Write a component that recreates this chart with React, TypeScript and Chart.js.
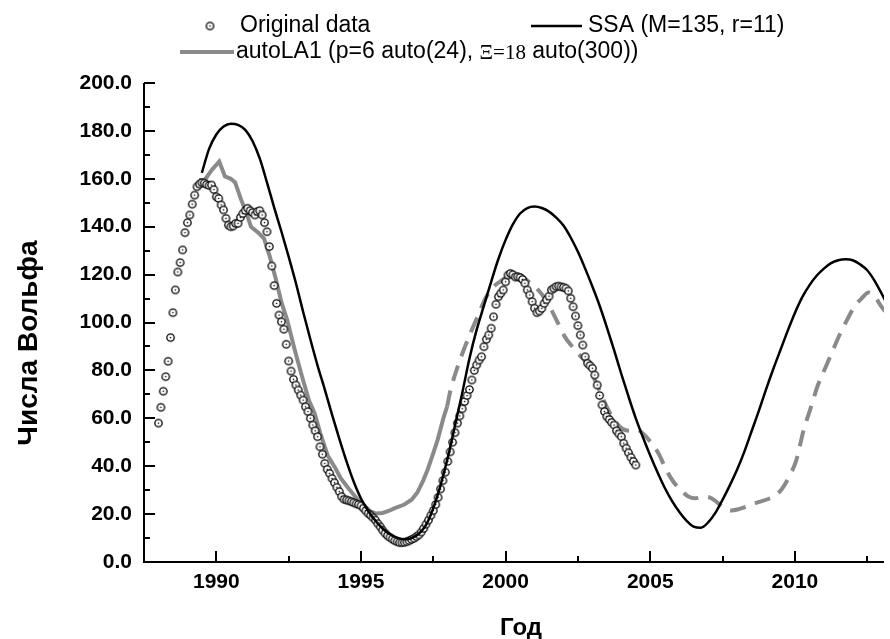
import React, { useEffect, useRef } from "react";
import { Chart, registerables } from "chart.js";

Chart.register(...registerables);

// ---------- data ----------
// Original data: monthly values starting January 1988
const obsStartYear = 1988;
const obsValues = [
  // 1988
  58, 64.6, 71.3, 77.4, 83.8, 93.7, 104.1, 113.6, 121.1, 125, 130.3, 137.5,
  // 1989
  141.7, 144.9, 149.4, 153.2, 156.7, 157.8, 158.4, 158.2, 157.6, 157.2, 157.4, 155.5,
  // 1990
  152.5, 151.8, 149.1, 147, 143.5, 140.7, 140, 140.3, 141.4, 141.4, 143.9, 145.5,
  // 1991
  146.8, 147.7, 146.7, 145.9, 144.9, 146.3, 146.7, 144.9, 141.7, 137.9, 131.7, 123.6,
  // 1992
  115.4, 108, 103.1, 100.3, 97.2, 90.9, 83.9, 79.7, 76.3, 73.9, 71.8, 69.7,
  // 1993
  67.6, 64.8, 62.8, 60, 57.2, 54.8, 52.3, 48.1, 45, 41.2, 38.7, 37,
  // 1994
  34.9, 33.1, 31.2, 29.4, 27.3, 26.2, 25.9, 25.6, 25.2, 24.8, 24.3, 24,
  // 1995
  23.5, 22.5, 21.4, 20.3, 19.5, 18.5, 17.5, 16, 14.7, 13.3, 12, 11,
  // 1996
  10.3, 9.6, 8.9, 8.5, 8.1, 8.1, 8.2, 8.5, 8.9, 9.4, 9.9, 10.6,
  // 1997
  11.3, 12.5, 14, 15.8, 17.5, 19.5, 21.5, 24, 27, 30.5, 34, 37.5,
  // 1998
  42, 46, 50, 54, 58, 61, 64, 67, 69.5, 72, 76, 80,
  // 1999
  82.3, 84.3, 85.7, 89.9, 93, 94.8, 97.6, 102.4, 107.6, 110.8, 112.2, 113.6,
  // 2000
  117, 119.8, 120.5, 120, 119, 119.1, 118.8, 118, 116.4, 113.6, 111.5, 108.7,
  // 2001
  106, 104.1, 104.8, 105.9, 108, 109.5, 111, 113.6, 114.3, 115, 115.2, 114.9,
  // 2002
  114.7, 114.3, 113.2, 110.1, 106.6, 102.7, 98.7, 94.8, 90.6, 85.7, 83, 82,
  // 2003
  80.9, 78.1, 73.9, 69.5, 65.6, 62.8, 60.7, 59.5, 58.3, 57.2, 54.8, 53.5,
  // 2004
  52.3, 49.6, 47.5, 45.6, 43.7, 42, 40.5,
];

// SSA reconstruction + forecast, sampled every quarter year from 1989.5
const ssaStartYear = 1989.5;
const ssaStep = 0.25;
const ssaValues = [
  162.5, 172.5, 178.5, 181.8, 183.0, 182.5, 180.4, 175.8, 168.5, 158.5,
  148.0, 138.0, 127.5, 116.5, 104.5, 93.0, 82.0, 72.0, 61.5, 51.5,
  42.0, 33.5, 26.5, 21.3, 17.2, 14.0, 11.6, 10.2, 9.5, 10.0,
  11.8, 15.5, 22.5, 32.0, 43.5, 57.0, 70.5, 85.0, 97.0, 107.0,
  117.0, 126.5, 134.5, 141.0, 145.5, 147.8, 148.4, 147.8, 146.3, 143.8,
  140.5, 135.5, 129.5, 122.5, 115.0, 107.0, 98.0, 88.5, 78.5, 69.0,
  60.0, 52.0, 44.5, 37.5, 31.0, 25.5, 21.0, 17.3, 14.8, 14.3,
  16.5, 20.5, 26.0, 32.0, 38.5, 46.0, 54.5, 63.0, 72.0, 80.5,
  88.5, 96.5, 104.0, 110.5, 115.5, 119.5, 122.5, 124.8, 126.0, 126.4,
  126.0, 124.3, 121.8, 117.5, 112.0, 106.0,
];

// autoLA1: fitted part (solid)
const laSolidYears = [
  1989.4, 1989.6, 1989.85, 1990.1, 1990.3, 1990.5, 1990.65, 1990.85, 1991.0, 1991.2,
  1991.45, 1991.65, 1991.85, 1992.05, 1992.25, 1992.45, 1992.7, 1992.95, 1993.2, 1993.4,
  1993.6, 1993.85, 1994.1, 1994.3, 1994.55, 1994.9, 1995.25, 1995.5, 1995.75, 1996.0,
  1996.15, 1996.5, 1996.75, 1996.95, 1997.15, 1997.3, 1997.5, 1997.65, 1997.86, 1997.98,
];
const laSolidValues = [
  159.5, 159.5, 163.8, 167.2, 161, 160, 158.5, 151.5, 147, 140,
  137.5, 135, 127.5, 118.5, 108.5, 101, 89, 78, 67.5, 62,
  53.5, 44.5, 39.5, 35, 31, 25.9, 21.5, 20.3, 20.5, 21.5,
  22.4, 24, 26, 29, 34, 38.4, 45.5, 51, 60.5, 65,
];

// autoLA1: forecast part (dashed)
const laDashYears = [
  1997.98, 1998.1, 1998.3, 1998.55, 1998.8, 1999.05, 1999.3, 1999.55, 1999.8, 2000.05,
  2000.3, 2000.55, 2000.8, 2001.05, 2001.3, 2001.55, 2001.8, 2002.05, 2002.3, 2002.55,
  2002.8, 2003.05, 2003.3, 2003.55, 2003.8, 2004.05, 2004.3, 2004.55, 2004.8, 2005.05,
  2005.3, 2005.55, 2005.8, 2006.05, 2006.3, 2006.55, 2006.8, 2007.05, 2007.3, 2007.55,
  2007.8, 2008.05, 2008.3, 2008.55, 2008.8, 2009.05, 2009.3, 2009.55, 2009.8, 2010.05,
  2010.3, 2010.55, 2010.8, 2011.05, 2011.3, 2011.55, 2011.8, 2012.05, 2012.3, 2012.55,
  2012.75, 2013.0, 2013.25,
];
const laDashValues = [
  65, 72, 80, 88.5, 96, 103, 110, 114.5, 117, 119,
  120.5, 119.5, 117, 114.5, 111, 106, 100, 94, 90, 86.5,
  83, 77, 70, 63.5, 58.5, 55.5, 54.8, 55.2, 53, 49.5,
  45, 38.5, 33.5, 30, 27.5, 26.6, 27.3, 27, 25, 22.5,
  21.5, 22, 23, 24.2, 25.2, 26.2, 27.5, 30.5, 35.6, 42.5,
  55, 64.5, 74, 81, 88, 95, 101, 106.5, 110, 112.5,
  111, 106.5, 103,
];

const xTickYears = [1990, 1995, 2000, 2005, 2010];
const xMinorYears = [1992.5, 1997.5, 2002.5, 2007.5, 2012.5];
const yTickValues = [0, 20, 40, 60, 80, 100, 120, 140, 160, 180, 200];
const yMinorValues = [10, 30, 50, 70, 90, 110, 130, 150, 170, 190];

const labelOriginal = "Original data";
const labelSSA = "SSA (M=135, r=11)";
const labelLA = ["autoLA1 (p=6 auto(24), ", "\u039E=18", " auto(300))"];
const xTitle = "Год";
const yTitle = "Числа Вольфа";

// ---------- styles ----------
const SANS = "'Liberation Sans', Arial, Helvetica, sans-serif";
const SERIF = "'Liberation Serif', 'Times New Roman', serif";
const GRAY = "#8a8a8a";

function makeMarker(): HTMLCanvasElement {
  const c = document.createElement("canvas");
  c.width = 11;
  c.height = 11;
  const g = c.getContext("2d")!;
  g.beginPath();
  g.arc(5.5, 5.5, 3.7, 0, Math.PI * 2);
  g.fillStyle = "#fff";
  g.fill();
  g.lineWidth = 1.3;
  g.strokeStyle = "#000";
  g.stroke();
  g.fillStyle = "#000";
  g.beginPath();
  g.arc(5.5, 5.5, 0.8, 0, Math.PI * 2);
  g.fill();
  return c;
}

export default function App() {
  const ref = useRef<HTMLCanvasElement | null>(null);

  useEffect(() => {
    const canvas = ref.current;
    if (!canvas) return;
    const marker = makeMarker();

    const obsPoints = obsValues.map((v, i) => ({ x: obsStartYear + i / 12, y: v }));
    const ssaPoints = ssaValues.map((v, i) => ({ x: ssaStartYear + i * ssaStep, y: v }));
    const laSolid = laSolidValues.map((v, i) => ({ x: laSolidYears[i], y: v }));
    const laDash = laDashValues.map((v, i) => ({ x: laDashYears[i], y: v }));

    const decorPlugin = {
      id: "decor",
      afterDatasetsDraw(chart: any) {
        const { ctx, chartArea: a, scales } = chart;
        const x = scales.x;
        const y = scales.y;
        ctx.save();
        ctx.strokeStyle = "#000";
        ctx.lineWidth = 2;
        ctx.lineCap = "butt";
        ctx.beginPath();
        ctx.moveTo(a.left, a.top);
        ctx.lineTo(a.left, a.bottom);
        ctx.lineTo(a.right, a.bottom);
        ctx.stroke();
        ctx.beginPath();
        yTickValues.forEach((v) => {
          const p = Math.round(y.getPixelForValue(v));
          ctx.moveTo(a.left, p);
          ctx.lineTo(a.left + 11, p);
        });
        yMinorValues.forEach((v) => {
          const p = Math.round(y.getPixelForValue(v));
          ctx.moveTo(a.left, p);
          ctx.lineTo(a.left + 6, p);
        });
        xTickYears.forEach((v) => {
          const p = Math.round(x.getPixelForValue(v));
          ctx.moveTo(p, a.bottom);
          ctx.lineTo(p, a.bottom - 11);
        });
        xMinorYears.forEach((v) => {
          const p = Math.round(x.getPixelForValue(v));
          ctx.moveTo(p, a.bottom);
          ctx.lineTo(p, a.bottom - 6);
        });
        ctx.stroke();
        ctx.restore();
      },
      afterDraw(chart: any) {
        const { ctx } = chart;
        ctx.save();
        ctx.fillStyle = "#000";
        // axis titles
        ctx.font = `bold 24px ${SANS}`;
        ctx.textAlign = "center";
        ctx.textBaseline = "alphabetic";
        ctx.fillText(xTitle, 521, 635);
        ctx.save();
        ctx.translate(37, 343);
        ctx.rotate(-Math.PI / 2);
        ctx.font = `bold 28px ${SANS}`;
        ctx.fillText(yTitle, 0, 0);
        ctx.restore();

        // legend
        const r1 = 26;
        const r2 = 52;
        ctx.font = `23px ${SANS}`;
        ctx.textAlign = "left";
        ctx.textBaseline = "middle";
        ctx.drawImage(marker, 210 - 5.5, r1 - 5.5);
        ctx.fillText(labelOriginal, 240, r1);

        ctx.strokeStyle = "#000";
        ctx.lineWidth = 2.5;
        ctx.beginPath();
        ctx.moveTo(531, r1);
        ctx.lineTo(582, r1);
        ctx.stroke();
        ctx.fillText(labelSSA, 588, r1);

        ctx.strokeStyle = GRAY;
        ctx.lineWidth = 4;
        ctx.beginPath();
        ctx.moveTo(180, r2);
        ctx.lineTo(234, r2);
        ctx.stroke();
        let tx = 236;
        ctx.font = `23px ${SANS}`;
        ctx.fillText(labelLA[0], tx, r2);
        tx += ctx.measureText(labelLA[0]).width;
        ctx.font = `21px ${SERIF}`;
        ctx.fillText(labelLA[1], tx, r2 + 1);
        tx += ctx.measureText(labelLA[1]).width;
        ctx.font = `23px ${SANS}`;
        ctx.fillText(labelLA[2], tx, r2);
        ctx.restore();
      },
    };

    const tickFont = { family: SANS, size: 21, weight: "bold" as const };

    const chart = new Chart(canvas, {
      type: "line",
      data: {
        datasets: [
          {
            label: labelSSA,
            data: ssaPoints,
            borderColor: "#000",
            borderWidth: 2.5,
            pointRadius: 0,
            cubicInterpolationMode: "monotone",
            fill: false,
            order: 0,
          },
          {
            label: labelOriginal,
            data: obsPoints,
            showLine: false,
            pointStyle: marker,
            pointRadius: 5,
            order: 1,
          },
          {
            label: "autoLA1",
            data: laSolid,
            borderColor: GRAY,
            borderWidth: 4,
            pointRadius: 0,
            tension: 0,
            fill: false,
            order: 2,
          },
          {
            label: "autoLA1 forecast",
            data: laDash,
            borderColor: GRAY,
            borderWidth: 4,
            borderDash: [16, 10],
            pointRadius: 0,
            cubicInterpolationMode: "monotone",
            fill: false,
            order: 2,
          },
        ],
      },
      options: {
        animation: false,
        responsive: false,
        devicePixelRatio: 1,
        events: [],
        layout: { padding: { top: 83, left: 0, right: 0, bottom: 0 } },
        plugins: { legend: { display: false }, tooltip: { enabled: false } },
        scales: {
          x: {
            type: "linear",
            min: 1987.5,
            max: 2013.08,
            grid: { display: false, drawTicks: false },
            border: { display: false },
            afterBuildTicks: (s: any) => {
              s.ticks = xTickYears.map((v) => ({ value: v }));
            },
            afterFit: (s: any) => {
              s.height = 77;
            },
            ticks: {
              font: tickFont,
              color: "#000",
              padding: 8,
              maxRotation: 0,
              autoSkip: false,
              callback: (v: any) => String(v),
            },
          },
          y: {
            type: "linear",
            min: 0,
            max: 200,
            grid: { display: false, drawTicks: false },
            border: { display: false },
            afterBuildTicks: (s: any) => {
              s.ticks = yTickValues.map((v) => ({ value: v }));
            },
            afterFit: (s: any) => {
              s.width = 144;
            },
            ticks: {
              font: tickFont,
              color: "#000",
              padding: 12,
              autoSkip: false,
              callback: (v: any) => Number(v).toFixed(1),
            },
          },
        },
      },
      plugins: [decorPlugin],
    });

    return () => chart.destroy();
  }, []);

  return (
    <div style={{ position: "absolute", left: 0, top: 0, width: 890, height: 639, background: "#fff", overflow: "hidden" }}>
      <canvas ref={ref} width={890} height={639} style={{ width: 890, height: 639, display: "block" }} />
    </div>
  );
}
